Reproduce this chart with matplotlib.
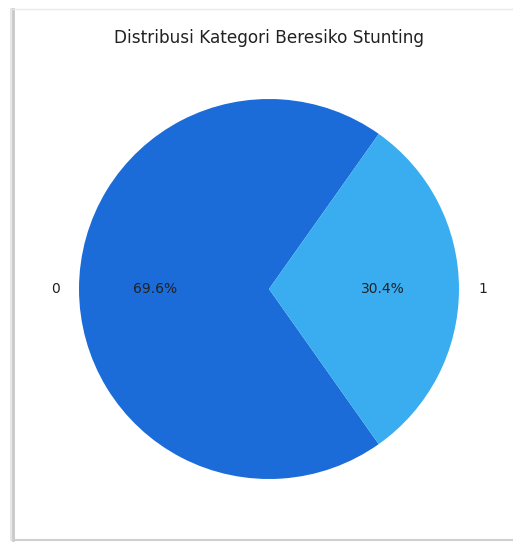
import matplotlib.pyplot as plt
from matplotlib.lines import Line2D

# stunting risk category counts (share in percent)
categories = ['0', '1']
shares = [69.6, 30.4]
colors = ['#1b6cd9', '#3aadf1']

fig = plt.figure(figsize=(5.13, 5.42), dpi=100)

# pie area: centre (269, 289) px, radius 190 px
W, H = 513, 542
ax = fig.add_axes([(269 - 190) / W, (H - 289 - 190) / H, 380 / W, 380 / H])
wedges, texts, autotexts = ax.pie(shares, labels=categories, colors=colors,
                                  autopct='%1.1f%%', startangle=54.7,
                                  textprops={'fontsize': 10, 'color': '#222222'})
ax.set_xlim(-1, 1)
ax.set_ylim(-1, 1)
ax.set_aspect('equal')

fig.text(269 / W, 1 - 38 / H, 'Distribusi Kategori Beresiko Stunting',
         ha='center', va='center', fontsize=12.2, color='#222222')

# panel border with a soft shadow
x0 = 13 / W
fig.add_artist(Line2D([x0, x0], [2 / H, 1 - 9 / H], color='#c8c8c8', lw=2.0))
fig.add_artist(Line2D([x0 - 2 / W, x0 - 2 / W], [2 / H, 1 - 9 / H], color='#e6e6e6', lw=1.5))
fig.add_artist(Line2D([x0, 1], [1 - 9 / H, 1 - 9 / H], color='#e8e8e8', lw=1.0))
fig.add_artist(Line2D([x0, 1], [2 / H, 2 / H], color='#cfcfcf', lw=1.5))

fig.savefig('out.png', dpi=100)
